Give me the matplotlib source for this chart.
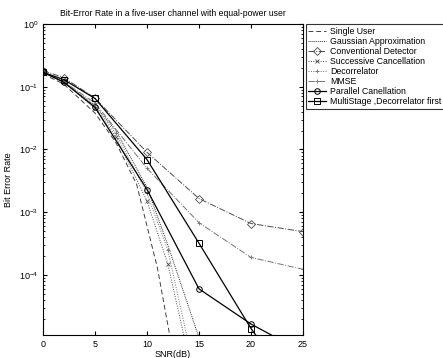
import matplotlib
matplotlib.use("Agg")
import matplotlib.pyplot as plt
import numpy as np

plt.rcParams['font.family'] = ['Liberation Sans', 'DejaVu Sans']

# ---- data ----
snr_su = [0, 2, 5, 7, 9, 11, 13]
ber_su = [0.16, 0.11, 0.038, 0.013, 2.8e-3, 1.3e-4, 2e-6]

snr_ga = [0, 2, 5, 7, 10, 12, 15]
ber_ga = [0.17, 0.12, 0.05, 0.02, 2.5e-3, 3e-4, 1.0e-5]

snr_conv = [0, 2, 5, 10, 15, 20, 25]
ber_conv = [0.18, 0.14, 0.066, 9e-3, 1.65e-3, 6.6e-4, 4.9e-4]

snr_sic = [0, 2, 5, 7, 10, 12, 14]
ber_sic = [0.17, 0.12, 0.045, 0.016, 1.5e-3, 1.5e-4, 5e-6]

snr_dec = [0, 2, 5, 7, 10, 12, 14]
ber_dec = [0.17, 0.12, 0.048, 0.018, 2e-3, 2.5e-4, 8e-6]

snr_mmse = [0, 2, 5, 10, 15, 20, 25]
ber_mmse = [0.17, 0.12, 0.055, 5e-3, 6.8e-4, 1.9e-4, 1.23e-4]

snr_pic = [0, 2, 5, 10, 15, 20, 25]
ber_pic = [0.17, 0.118, 0.047, 2.3e-3, 6e-5, 1.65e-5, 5.9e-6]

snr_ms = [0, 2, 5, 10, 15, 20, 25]
ber_ms = [0.17, 0.13, 0.065, 6.9e-3, 3.2e-4, 1.4e-5, 1e-6]

labels = ["Single User", "Gaussian Approximation", "Conventional Detector",
          "Successive Cancellation", "Decorrelator", "MMSE",
          "Parallel Canellation", "MultiStage ,Decorrelator first"]
title = "Bit-Error Rate in a five-user channel with equal-power user"
xticks = [0, 5, 10, 15, 20, 25]

fig = plt.figure(figsize=(4.43, 3.58), dpi=100)
ax = fig.add_axes([0.097, 0.064, 0.587, 0.869])

lw = 0.7
ax.semilogy(snr_su, ber_su, color='0.25', ls=(0, (5, 3)), lw=lw, label=labels[0])
ax.semilogy(snr_ga, ber_ga, color='0.2', ls=(0, (1, 1)), lw=lw, label=labels[1])
ax.semilogy(snr_conv, ber_conv, color='0.3', ls='-.', lw=lw, marker='D', ms=4,
            mfc='none', mec='0.3', mew=0.6, label=labels[2])
ax.semilogy(snr_sic, ber_sic, color='0.3', ls=(0, (1, 1.5)), lw=lw, marker='x', ms=3,
            mew=0.6, label=labels[3])
ax.semilogy(snr_dec, ber_dec, color='0.45', ls=(0, (1, 1.5)), lw=lw, marker='+', ms=3.5,
            mew=0.6, label=labels[4])
ax.semilogy(snr_mmse, ber_mmse, color='0.45', ls='-.', lw=lw, marker='+', ms=3.5,
            mew=0.6, label=labels[5])
ax.semilogy(snr_pic, ber_pic, color='k', ls='-', lw=0.9, marker='o', ms=4,
            mfc='none', mec='k', mew=0.7, label=labels[6])
ax.semilogy(snr_ms, ber_ms, color='k', ls='-', lw=0.9, marker='s', ms=4,
            mfc='none', mec='k', mew=0.7, label=labels[7])

ax.set_xlim(0, 25)
ax.set_ylim(1.1e-5, 1)
ax.set_xticks(xticks)
ax.set_xticklabels([str(t) for t in xticks])
ax.tick_params(which='both', direction='in', top=True, right=True, labelsize=6.5)
ax.tick_params(which='major', length=3)
ax.tick_params(which='minor', length=1.5)
ax.minorticks_on()
ax.xaxis.set_minor_locator(matplotlib.ticker.NullLocator())
for s in ax.spines.values():
    s.set_linewidth(0.8)

ax.set_title(title, fontsize=6.2, pad=6)
ax.set_xlabel("SNR(dB)", fontsize=6.5, labelpad=1)
ax.set_ylabel("Bit Error Rate", fontsize=6.5, labelpad=4)

leg = ax.legend(loc='upper left', bbox_to_anchor=(1.01, 1.0), fontsize=6.3,
                frameon=True, fancybox=False, edgecolor='k', borderpad=0.3,
                labelspacing=0.12, handlelength=2.0, handletextpad=0.5,
                borderaxespad=0.0)
leg.get_frame().set_linewidth(0.8)

fig.savefig("out.png", dpi=100)
